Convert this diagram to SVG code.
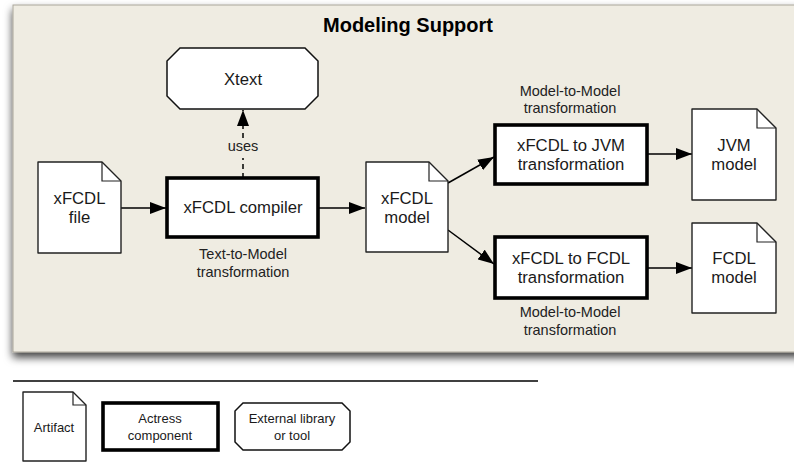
<svg xmlns="http://www.w3.org/2000/svg" width="794" height="462" viewBox="0 0 794 462">
<defs>
<filter id="shadow" x="-5%" y="-5%" width="115%" height="120%">
<feDropShadow dx="0" dy="5" stdDeviation="4" flood-color="#000" flood-opacity="0.75"/>
</filter>
<marker id="ah" viewBox="0 0 16 12" refX="16" refY="6" markerWidth="16" markerHeight="12" orient="auto" markerUnits="userSpaceOnUse">
<path d="M0,0 L16,6 L0,12 Z" fill="#000"/>
</marker>
</defs>
<style>
text{font-family:"Liberation Sans",Arial,Helvetica,sans-serif;fill:#1a1a1a;text-anchor:middle}
.n{font-size:16.7px}
.l{font-size:14.5px;fill:#222}
.g{font-size:13px}
.t{font-size:20px;font-weight:bold;fill:#000}
.doc{fill:#fff;stroke:#222;stroke-width:1.4;stroke-linejoin:round}
.fold{fill:none;stroke:#222;stroke-width:1.2}
.comp{fill:#fff;stroke:#000;stroke-width:3.6}
.ext{fill:#fff;stroke:#111;stroke-width:1.5}
.c{fill:none;stroke:#000;stroke-width:1.5}
.d{fill:none;stroke:#000;stroke-width:1.5;stroke-dasharray:5 4}
</style>
<rect x="13" y="5" width="800" height="347" fill="#efece2" stroke="#aaa69a" stroke-width="1" filter="url(#shadow)"/>
<text class="t" x="408" y="32">Modeling Support</text>

<g id="connectors">
<path class="c" d="M121,208 H166" marker-end="url(#ah)"/>
<path class="c" d="M318,208 H365" marker-end="url(#ah)"/>
<path class="d" d="M243,178 V158"/>
<path class="d" d="M243,138 V110" marker-end="url(#ah)"/>
<text class="l" x="243" y="151">uses</text>
<path class="c" d="M448,183 L494,157" marker-end="url(#ah)"/>
<path class="c" d="M448,230 L494,264" marker-end="url(#ah)"/>
<path class="c" d="M647,154 H692" marker-end="url(#ah)"/>
<path class="c" d="M647,268 H692" marker-end="url(#ah)"/>
</g>

<g id="xtext">
<path class="ext" d="M180,48 H305 L318,61 V96 L305,109 H180 L167,96 V61 Z"/>
<text class="n" x="243" y="85">Xtext</text>
</g>

<g id="xfcdl-file">
<path class="doc" d="M38,162 H102 L121,181 V253 H38 Z"/>
<path class="fold" d="M102,162 V181 H121"/>
<text class="n" x="79.5" y="204">xFCDL</text>
<text class="n" x="79.5" y="223">file</text>
</g>

<g id="compiler">
<rect class="comp" x="167" y="178" width="151" height="59"/>
<text class="n" x="243" y="213">xFCDL compiler</text>
<text class="l" x="243" y="259">Text-to-Model</text>
<text class="l" x="243" y="277">transformation</text>
</g>

<g id="xfcdl-model">
<path class="doc" d="M366,162 H429 L448,181 V252 H366 Z"/>
<path class="fold" d="M429,162 V181 H448"/>
<text class="n" x="407" y="204">xFCDL</text>
<text class="n" x="407" y="223">model</text>
</g>

<g id="jvm-transform">
<text class="l" x="570" y="96">Model-to-Model</text>
<text class="l" x="570" y="113">transformation</text>
<rect class="comp" x="495" y="125" width="152" height="59"/>
<text class="n" x="571" y="150.5">xFCDL to JVM</text>
<text class="n" x="571" y="169.5">transformation</text>
</g>

<g id="jvm-model">
<path class="doc" d="M692,109 H757 L776,128 V200 H692 Z"/>
<path class="fold" d="M757,109 V128 H776"/>
<text class="n" x="734" y="151">JVM</text>
<text class="n" x="734" y="170">model</text>
</g>

<g id="fcdl-transform">
<rect class="comp" x="495" y="237" width="152" height="61"/>
<text class="n" x="571" y="264">xFCDL to FCDL</text>
<text class="n" x="571" y="283">transformation</text>
<text class="l" x="570" y="317">Model-to-Model</text>
<text class="l" x="570" y="335">transformation</text>
</g>

<g id="fcdl-model">
<path class="doc" d="M692,223 H757 L776,242 V313 H692 Z"/>
<path class="fold" d="M757,223 V242 H776"/>
<text class="n" x="734" y="264">FCDL</text>
<text class="n" x="734" y="283">model</text>
</g>

<path d="M13,381 H538" stroke="#000" stroke-width="1.5" fill="none"/>

<g id="legend-artifact">
<path class="doc" d="M23,392 H73 L86,405 V461 H23 Z"/>
<path class="fold" d="M73,392 V405 H86"/>
<text class="g" x="54" y="432">Artifact</text>
</g>

<g id="legend-component">
<rect class="comp" x="103" y="403" width="115" height="47" stroke-width="3"/>
<text class="g" x="160" y="423">Actress</text>
<text class="g" x="160" y="440">component</text>
</g>

<g id="legend-external">
<path class="ext" d="M243,403 H342 L350,411 V442 L342,450 H243 L235,442 V411 Z"/>
<text class="g" x="292" y="423">External library</text>
<text class="g" x="292" y="440">or tool</text>
</g>
</svg>
